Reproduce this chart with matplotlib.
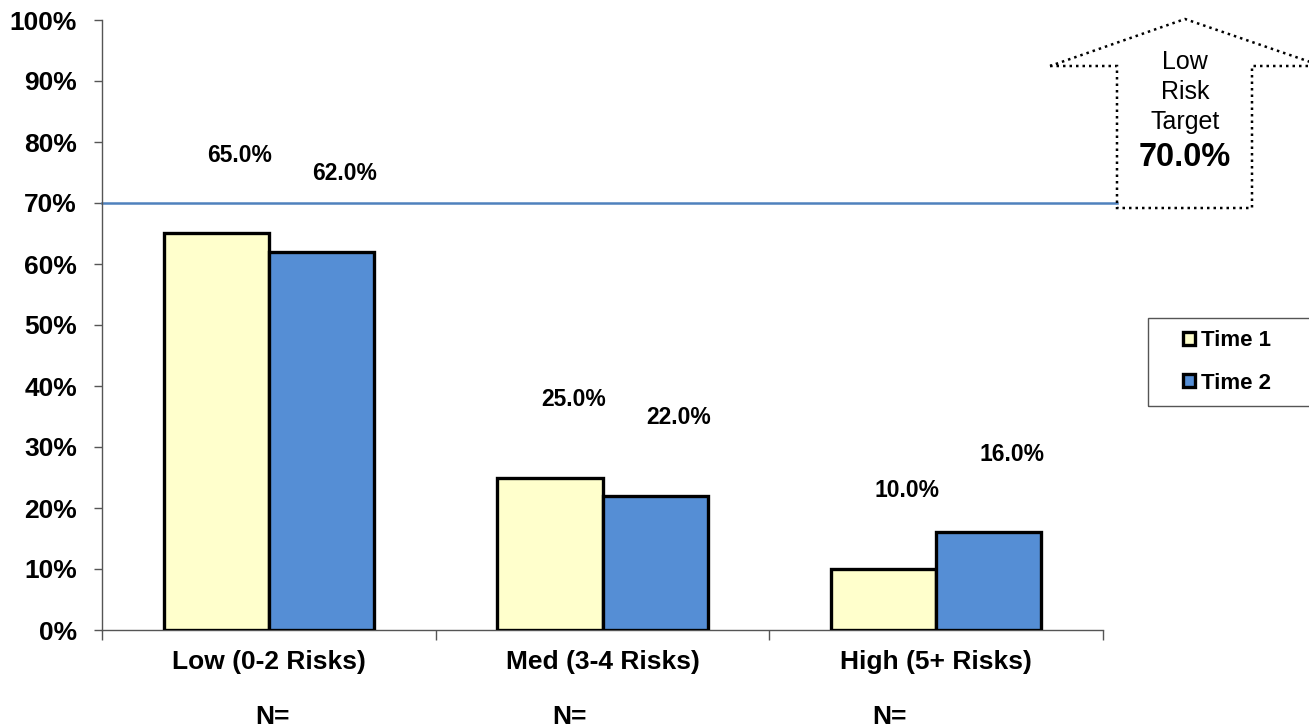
import matplotlib
matplotlib.use("Agg")
import matplotlib.pyplot as plt
import numpy as np
from matplotlib.patches import Polygon, Rectangle

plt.rcParams['font.family'] = ['Liberation Sans', 'DejaVu Sans']

categories = ['Low (0-2 Risks)', 'Med (3-4 Risks)', 'High (5+ Risks)']
series_names = ['Time 1', 'Time 2']
time1 = [65.0, 25.0, 10.0]
time2 = [62.0, 22.0, 16.0]
target = 70.0
n_labels = ['N=', 'N=', 'N=']
y_ticks = [0, 10, 20, 30, 40, 50, 60, 70, 80, 90, 100]

colors = ['#FFFFCC', '#558ED5']
W, H = 1309, 728

fig = plt.figure(figsize=(W / 100, H / 100), dpi=100)
ax = fig.add_axes([102 / W, 1 - 630 / H, (1103 - 102) / W, (630 - 20) / H])

x = np.arange(len(categories))
bw = 0.315
for i, (vals, c) in enumerate(zip([time1, time2], colors)):
    pos = x + (i - 0.5) * bw
    ax.bar(pos, vals, width=bw, color=c, edgecolor='black', linewidth=2.4,
           label=series_names[i], zorder=3)
    for px, v in zip(pos, vals):
        ax.text(px + 0.07, v + 12.8, f'{v:.1f}%', ha='center', va='center',
                fontsize=16.5, fontweight='bold')

# target line runs past the plot area into the arrow callout
ax.plot([0, 1.014], [target, target], color='#4F81BD', lw=1.8,
        transform=ax.get_yaxis_transform(), clip_on=False, zorder=2)

ax.set_xlim(-0.5, 2.5)
ax.set_ylim(0, 100)
ax.set_yticks(y_ticks)
ax.set_yticklabels([f'{t}%' for t in y_ticks], fontsize=19, fontweight='bold')
ax.set_xticks([-0.5, 0.5, 1.5, 2.5])
ax.set_xticklabels([])
ax.tick_params(axis='y', length=6, color='#555555', width=1, pad=12)
ax.tick_params(axis='x', length=7, color='#555555', width=1)
for s in ['top', 'right']:
    ax.spines[s].set_visible(False)
for s in ['left', 'bottom']:
    ax.spines[s].set_color('#555555')
    ax.spines[s].set_linewidth(1)

n_shift = [0.01, -0.1, -0.14]
for xi, cat, nl, sh in zip(x, categories, n_labels, n_shift):
    ax.text(xi, -5.2, cat, ha='center', va='center', fontsize=19, fontweight='bold',
            clip_on=False)
    ax.text(xi + sh, -14.3, nl, ha='center', va='center', fontsize=19, fontweight='bold',
            clip_on=False)

# dotted up-arrow callout for the target
pts = [(1050, 66), (1117, 66), (1117, 208), (1252, 208), (1252, 66), (1322, 66), (1185, 19)]
arrow = Polygon([(px / W, 1 - py / H) for px, py in pts], closed=True, fill=False,
                linestyle=(0, (1, 1.6)), linewidth=1.8, edgecolor='black',
                transform=fig.transFigure)
fig.add_artist(arrow)
for txt, py in [('Low', 62), ('Risk', 92), ('Target', 122)]:
    fig.text(1185 / W, 1 - py / H, txt, ha='center', va='center', fontsize=18)
fig.text(1185 / W, 1 - 157 / H, f'{target:.1f}%', ha='center', va='center',
         fontsize=23.5, fontweight='bold')

# legend frame runs off the right edge of the figure
fig.add_artist(Rectangle((1148 / W, 1 - 406 / H), (1330 - 1148) / W, 88 / H,
                         fill=False, edgecolor='#555555', linewidth=1,
                         transform=fig.transFigure))
handles = [Rectangle((0, 0), 1, 1, facecolor=c, edgecolor='black', linewidth=2.4)
           for c in colors]
leg = fig.legend(handles, series_names, loc='center left',
                 bbox_to_anchor=(1183 / W, 1 - 362 / H),
                 prop={'weight': 'bold', 'size': 16}, frameon=False,
                 handlelength=0.55, handleheight=0.55, handletextpad=0.25,
                 labelspacing=0.95, borderpad=0, borderaxespad=0)

fig.savefig('out.png', dpi=100)
